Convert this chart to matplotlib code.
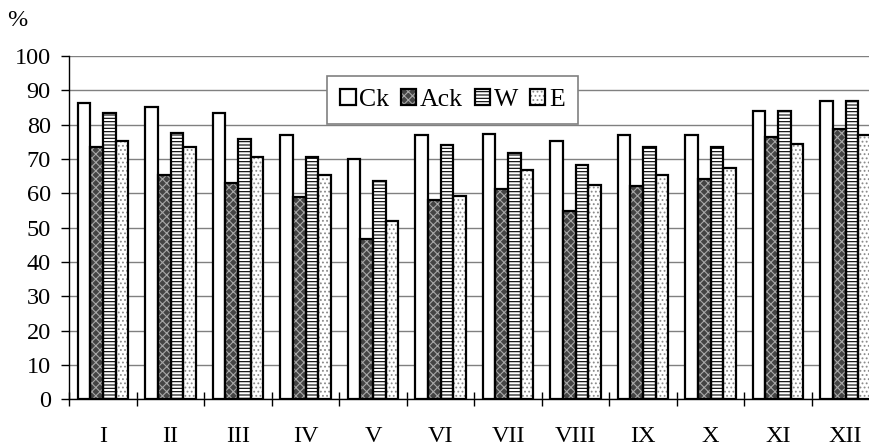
import numpy as np
import matplotlib
matplotlib.use("Agg")
import matplotlib.pyplot as plt

plt.rcParams['font.family'] = ['Liberation Serif', 'DejaVu Serif']
plt.rcParams['hatch.linewidth'] = 0.8

months = ['I', 'II', 'III', 'IV', 'V', 'VI', 'VII', 'VIII', 'IX', 'X', 'XI', 'XII']
series_names = ['Ck', 'Ack', 'W', 'E']

ck = [86.3, 85.0, 83.4, 76.9, 70.0, 76.9, 77.4, 75.1, 76.9, 76.9, 83.9, 86.8]
ack = [73.4, 65.2, 62.9, 58.9, 46.6, 58.1, 61.2, 54.9, 62.2, 64.1, 76.3, 78.6]
w = [83.4, 77.6, 75.8, 70.6, 63.6, 74.1, 71.7, 68.3, 73.4, 73.4, 83.9, 86.8]
e = [75.3, 73.4, 70.6, 65.2, 51.8, 59.3, 66.9, 62.3, 65.2, 67.5, 74.5, 76.9]

# fill colour, hatch, hatch colour for each series
styles = [
    ('white', '', 'black'),
    ('#444444', 'xxxx', '#a8a8a8'),
    ('white', '-----', 'black'),
    ('white', '....', '#8a8a8a'),
]

fig = plt.figure(figsize=(8.7, 4.48), dpi=100)
# plot area runs past the right edge of the picture, as in the original
ax = fig.add_axes([69.3 / 870, 48.7 / 448, 810 / 870, 343.3 / 448])

x = np.arange(len(months))
bw = 0.187
handles = []
for k, (vals, (fc, hatch, hc)) in enumerate(zip([ck, ack, w, e], styles)):
    pos = x + (k - 1.5) * bw
    filled = ax.bar(pos, vals, bw, color=fc, hatch=hatch, edgecolor=hc,
                    linewidth=0, zorder=3)
    outline = ax.bar(pos, vals, bw, fill=False, edgecolor='black',
                     linewidth=1.6, zorder=4)
    handles.append((filled.patches[0], outline.patches[0]))

ax.set_xlim(-0.5, 11.5)
ax.set_ylim(0, 100)
ax.set_yticks(np.arange(0, 101, 10))
ax.yaxis.grid(True, color='#808080', linewidth=1.0, zorder=0)
ax.set_axisbelow(True)

for s in ['top', 'right']:
    ax.spines[s].set_visible(False)
ax.spines['left'].set_linewidth(1.0)
ax.spines['bottom'].set_linewidth(1.0)

ax.set_xticks(np.arange(-0.5, 12, 1))
ax.set_xticklabels([])
ax.set_xticks(x, minor=True)
ax.set_xticklabels(months, minor=True)
ax.tick_params(axis='x', which='major', direction='inout', length=10, width=1)
ax.tick_params(axis='x', which='minor', length=0, pad=19.5, labelsize=17.5)
ax.tick_params(axis='y', direction='out', length=5.8, width=1, pad=7.5,
               labelsize=17.5)

leg = ax.legend(handles, series_names, loc='upper left',
                bbox_to_anchor=(0.3185, 0.9418), borderaxespad=0, ncol=4,
                fontsize=18.5, frameon=True, fancybox=False, framealpha=1,
                handlelength=0.6, handleheight=0.6, handletextpad=0.15,
                columnspacing=0.45, borderpad=0.5)
leg.get_frame().set_edgecolor('#808080')
leg.get_frame().set_linewidth(1.2)
leg.set_zorder(5)

fig.text(17 / 870, 1 - 20 / 448, '%', fontsize=17.5, ha='center', va='center')

fig.savefig('out.png', dpi=100)
